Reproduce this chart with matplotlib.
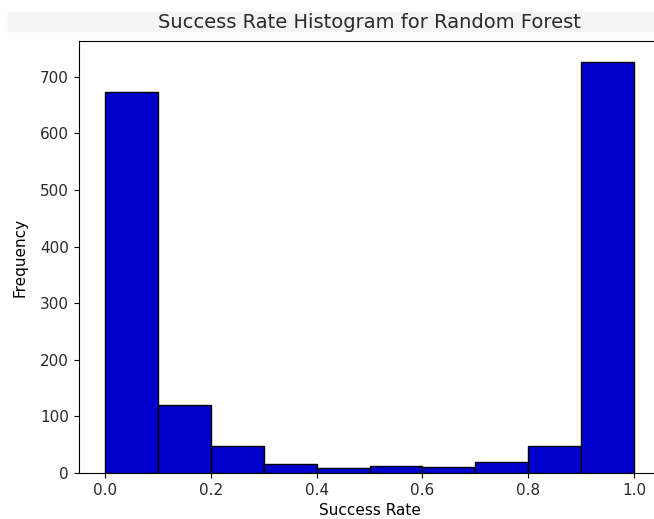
import numpy as np
import matplotlib.pyplot as plt
from matplotlib.patches import Rectangle

# bin edges and per-bin counts of the success rate
bin_edges = [0.0, 0.1, 0.2, 0.3, 0.4, 0.5, 0.6, 0.7, 0.8, 0.9, 1.0]
counts = [673, 121, 48, 16, 8, 13, 11, 20, 48, 727]

plt.rcParams["text.color"] = "#2a2a2a"
plt.rcParams["xtick.labelcolor"] = "#2a2a2a"
plt.rcParams["ytick.labelcolor"] = "#2a2a2a"

fig = plt.figure(figsize=(6.54, 5.19), dpi=100)
# light strip behind the title
fig.patches.append(Rectangle((8 / 654, 1 - 31 / 519), 1.0, 19 / 519,
                             transform=fig.transFigure, color="#f4f4f4", zorder=-1))
ax = fig.add_axes([78.5 / 654, 1 - 473 / 519, 582 / 654, 432 / 519])

centers = np.array(bin_edges[:-1])
ax.hist(centers, bins=bin_edges, weights=counts,
        color="mediumblue", edgecolor="black")
ax.spines["right"].set_visible(False)

ax.set_title("Success Rate Histogram for Random Forest", fontsize=14, pad=9)
ax.set_xlabel("Success Rate", fontsize=11, labelpad=4)
ax.set_ylabel("Frequency", fontsize=11, labelpad=9)
ax.tick_params(labelsize=11)

fig.savefig("out.png", dpi=100)
